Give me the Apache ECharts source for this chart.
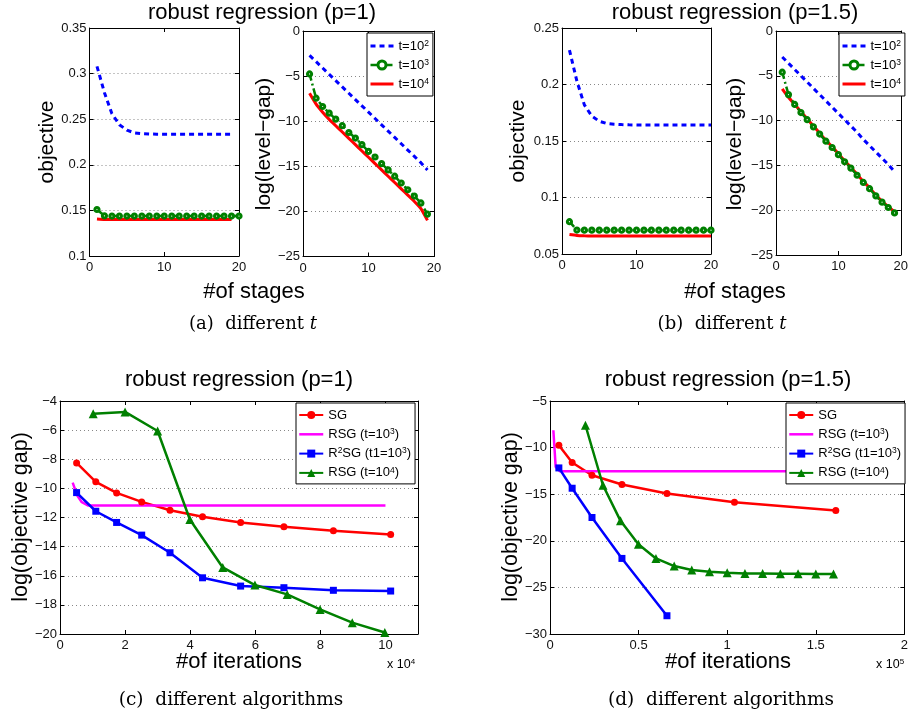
<!DOCTYPE html>
<html><head><meta charset="utf-8">
<script src="https://cdn.jsdelivr.net/npm/echarts@6/dist/echarts.min.js"></script>
<style>html,body{margin:0;padding:0;background:#fff}#c{width:911px;height:719px}</style>
</head><body><div id="c"></div>
<script>
// ---------- data ----------
// (a) p=1 : objective vs #of stages
const a1BlueX = [1,2,3,4,5,6,7,8,9,10,11,12,13,14,15,16,17,18,19];
const a1BlueY = [0.308,0.279,0.256,0.244,0.238,0.235,0.2342,0.2338,0.2336,0.2335,0.2335,0.2335,0.2335,0.2335,0.2335,0.2335,0.2335,0.2335,0.2335];
const a1GreenX = [1,2,3,4,5,6,7,8,9,10,11,12,13,14,15,16,17,18,19,20];
const a1GreenY = [0.151,0.1440,0.1438,0.1438,0.1438,0.1438,0.1438,0.1438,0.1438,0.1438,0.1438,0.1438,0.1438,0.1438,0.1438,0.1438,0.1438,0.1438,0.1438,0.1438];
const a1RedX = [1,2,3,4,5,6,7,8,9,10,11,12,13,14,15,16,17,18,19];
const a1RedY = [0.1405,0.1400,0.1400,0.1400,0.1400,0.1400,0.1400,0.1400,0.1400,0.1400,0.1400,0.1400,0.1400,0.1400,0.1400,0.1400,0.1400,0.1400,0.1400];
// (a) p=1 : log(level-gap)
const a2X = [1,2,3,4,5,6,7,8,9,10,11,12,13,14,15,16,17,18,19];
const a2BlueY = [-2.7,-3.4,-4.1,-4.8,-5.5,-6.2,-6.9,-7.6,-8.3,-9.0,-9.7,-10.4,-11.1,-11.8,-12.5,-13.2,-13.9,-14.6,-15.4];
const a2GreenY = [-4.76,-7.45,-8.37,-9.1,-9.77,-10.5,-11.25,-11.87,-12.6,-13.35,-13.97,-14.7,-15.4,-16.1,-16.85,-17.6,-18.3,-19.06,-20.3];
const a2RedY = [-6.9,-8.1,-9.0,-9.8,-10.5,-11.2,-11.9,-12.6,-13.3,-14.0,-14.7,-15.4,-16.1,-16.8,-17.5,-18.2,-18.9,-19.7,-21.0];
// (b) p=1.5 : objective
const b1X = [1,2,3,4,5,6,7,8,9,10,11,12,13,14,15,16,17,18,19,20];
const b1BlueY = [0.2305,0.203,0.182,0.172,0.1675,0.1655,0.1648,0.1645,0.1643,0.1642,0.1642,0.1642,0.1642,0.1642,0.1642,0.1642,0.1642,0.1642,0.1642,0.1642];
const b1GreenY = [0.0786,0.0712,0.0711,0.0711,0.0711,0.0711,0.0711,0.0711,0.0711,0.0711,0.0711,0.0711,0.0711,0.0711,0.0711,0.0711,0.0711,0.0711,0.0711,0.0711];
const b1RedY = [0.0672,0.0664,0.0661,0.0660,0.0660,0.0660,0.0660,0.0660,0.0660,0.0660,0.0660,0.0660,0.0660,0.0660,0.0660,0.0660,0.0660,0.0660,0.0660,0.0660];
// (b) p=1.5 : log(level-gap)
const b2X = [1,2,3,4,5,6,7,8,9,10,11,12,13,14,15,16,17,18,19];
const b2BlueY = [-2.9,-3.6,-4.3,-5.0,-5.7,-6.4,-7.1,-7.8,-8.5,-9.2,-9.9,-10.6,-11.3,-12.1,-12.8,-13.5,-14.2,-14.9,-15.7];
const b2GreenY = [-4.6,-7.1,-8.2,-9.1,-9.9,-10.7,-11.5,-12.3,-13.0,-13.8,-14.6,-15.3,-16.1,-16.9,-17.6,-18.4,-19.1,-19.7,-20.3];
const b2RedY = [-6.45,-7.4,-8.2,-9.0,-9.8,-10.6,-11.4,-12.2,-12.9,-13.7,-14.5,-15.2,-16.0,-16.8,-17.5,-18.3,-19.0,-19.6,-20.2];
// (c) p=1 : log(objective gap) vs iterations (x 10^4)
const cSGX = [0.51,1.10,1.74,2.51,3.38,4.38,5.55,6.88,8.40,10.16];
const cSGY = [-8.25,-9.55,-10.31,-10.93,-11.5,-11.95,-12.34,-12.64,-12.91,-13.17];
const cRSG3X = [0.39,0.53,0.67,0.87,10.0];
const cRSG3Y = [-9.6,-10.5,-10.95,-11.18,-11.18];
const cR2SGX = [0.51,1.10,1.74,2.51,3.38,4.38,5.55,6.88,8.40,10.16];
const cR2SGY = [-10.29,-11.57,-12.34,-13.21,-14.42,-16.14,-16.71,-16.82,-17.0,-17.05];
const cRSG4X = [1.02,2.0,3.0,3.99,5.0,5.99,6.98,7.99,8.98,9.98];
const cRSG4Y = [-4.87,-4.75,-6.06,-12.14,-15.43,-16.64,-17.28,-18.31,-19.22,-19.9];
// (d) p=1.5 : log(objective gap) vs iterations (x 10^5)
const dSGX = [0.050,0.125,0.237,0.406,0.66,1.041,1.613];
const dSGY = [-9.75,-11.6,-12.96,-13.96,-14.93,-15.86,-16.75];
const dRSG3X = [0.019,0.032,0.056,1.6];
const dRSG3Y = [-8.14,-12.07,-12.54,-12.54];
const dR2SGX = [0.050,0.125,0.237,0.406,0.66];
const dR2SGY = [-12.18,-14.36,-17.5,-21.89,-28.04];
const dRSG4X = [0.2,0.299,0.398,0.499,0.598,0.701,0.8,0.9,1.0,1.1,1.2,1.3,1.4,1.5,1.6];
const dRSG4Y = [-7.6,-14.04,-17.86,-20.36,-21.89,-22.71,-23.14,-23.32,-23.43,-23.5,-23.5,-23.54,-23.54,-23.57,-23.57];

const legendTNames = ['t=10^2','t=10^3','t=10^4'];
const legendAlgNames = ['SG','RSG (t=10^3)','R^2SG (t1=10^3)','RSG (t=10^4)'];
const titleP1 = 'robust regression (p=1)';
const titleP15 = 'robust regression (p=1.5)';

// ---------- layout ----------
const SANS = '"Liberation Sans", Arial, Helvetica, sans-serif';
const SERIF = '"DejaVu Serif", serif';
const grids = [
  {left: 89.5, top: 28, width: 149.5, height: 228},
  {left: 303, top: 31, width: 131, height: 225.5},
  {left: 562, top: 28, width: 149, height: 226},
  {left: 776, top: 31, width: 131, height: 224},
  {left: 60, top: 401, width: 358, height: 233},
  {left: 550, top: 401, width: 357, height: 233}
];
const axisRanges = [
  {x: [0, 20, 10], y: [0.1, 0.35, 0.05]},
  {x: [0, 20, 10], y: [-25, 0, 5]},
  {x: [0, 20, 10], y: [0.05, 0.25, 0.05]},
  {x: [0, 20, 10], y: [-25, 0, 5]},
  {x: [0, 11, 2], y: [-20, -4, 2]},
  {x: [0, 2, 0.5], y: [-30, -5, 5]}
];
const fmt = v => String(+v.toFixed(4)).replace('-', '\u2212');

const xAxis = [], yAxis = [];
grids.forEach((g, i) => {
  const r = axisRanges[i];
  const maxOnTick = Math.abs(r.x[1] / r.x[2] - Math.round(r.x[1] / r.x[2])) < 1e-9;
  const common = {type: 'value', gridIndex: i,
    axisLine: {show: true, onZero: false, lineStyle: {color: '#000', width: 1}},
    axisTick: {show: true, inside: true, length: 4, lineStyle: {color: '#000'}}};
  xAxis.push(Object.assign({}, common, {position: 'bottom', min: r.x[0], max: r.x[1], interval: r.x[2],
    splitLine: {show: false},
    axisLabel: {show: true, fontSize: 13, fontFamily: SANS, color: '#111', margin: 5, formatter: fmt, showMaxLabel: maxOnTick}}));
  xAxis.push(Object.assign({}, common, {position: 'top', min: r.x[0], max: r.x[1], interval: r.x[2],
    splitLine: {show: false}, axisLabel: {show: false}}));
  yAxis.push(Object.assign({}, common, {position: 'left', min: r.y[0], max: r.y[1], interval: r.y[2],
    splitLine: {show: true, lineStyle: {color: '#888', type: [1, 3], width: 1}},
    axisLabel: {show: true, fontSize: 13, fontFamily: SANS, color: '#111', margin: 3, formatter: fmt}}));
  yAxis.push(Object.assign({}, common, {position: 'right', min: r.y[0], max: r.y[1], interval: r.y[2],
    splitLine: {show: false}, axisLabel: {show: false}}));
});

const zip = (xs, ys) => xs.map((x, k) => [x, ys[k]]);
const BLUE = '#0000ff', GREEN = '#008000', RED = '#ff0000', MAG = '#ff00ff';
const DASH = [5, 4], DASHDOT = [7, 3, 2, 3];
const greenMarker = {color: '#fff', borderColor: GREEN, borderWidth: 3};
function sBlueDash(gi, name, xs, ys) {
  return {type: 'line', name, xAxisIndex: 2 * gi, yAxisIndex: 2 * gi, data: zip(xs, ys), symbol: 'none',
    color: BLUE, lineStyle: {color: BLUE, width: 3, type: DASH}, z: 3, silent: true};
}
function sGreenCirc(gi, name, xs, ys) {
  return {type: 'line', name, xAxisIndex: 2 * gi, yAxisIndex: 2 * gi, data: zip(xs, ys), symbol: 'circle', symbolSize: 4.2,
    color: GREEN, itemStyle: greenMarker,
    lineStyle: {color: GREEN, width: 2.5, type: DASHDOT}, z: 4, silent: true};
}
function sRedSolid(gi, name, xs, ys) {
  return {type: 'line', name, xAxisIndex: 2 * gi, yAxisIndex: 2 * gi, data: zip(xs, ys), symbol: 'none',
    color: RED, lineStyle: {color: RED, width: 3}, z: 2, silent: true, smooth: 0.2};
}
function sAlg(gi, name, xs, ys, color, symbol, size) {
  return {type: 'line', name, xAxisIndex: 2 * gi, yAxisIndex: 2 * gi, data: zip(xs, ys),
    symbol: symbol, symbolSize: size, showSymbol: symbol !== 'none',
    color: color, itemStyle: {color: color}, lineStyle: {color: color, width: 2.5}, silent: true, z: 3};
}

const series = [
  sBlueDash(0, legendTNames[0], a1BlueX, a1BlueY),
  sGreenCirc(0, legendTNames[1], a1GreenX, a1GreenY),
  sRedSolid(0, legendTNames[2], a1RedX, a1RedY),
  sBlueDash(1, legendTNames[0], a2X, a2BlueY),
  sGreenCirc(1, legendTNames[1], a2X, a2GreenY),
  sRedSolid(1, legendTNames[2], a2X, a2RedY),
  sBlueDash(2, legendTNames[0], b1X, b1BlueY),
  sGreenCirc(2, legendTNames[1], b1X, b1GreenY),
  sRedSolid(2, legendTNames[2], b1X, b1RedY),
  sBlueDash(3, legendTNames[0], b2X, b2BlueY),
  sGreenCirc(3, legendTNames[1], b2X, b2GreenY),
  sRedSolid(3, legendTNames[2], b2X, b2RedY),
  sAlg(4, legendAlgNames[0], cSGX, cSGY, RED, 'circle', 7),
  sAlg(4, legendAlgNames[1], cRSG3X, cRSG3Y, MAG, 'none', 0),
  sAlg(4, legendAlgNames[2], cR2SGX, cR2SGY, BLUE, 'rect', 7),
  sAlg(4, legendAlgNames[3], cRSG4X, cRSG4Y, GREEN, 'triangle', 9),
  sAlg(5, legendAlgNames[0], dSGX, dSGY, RED, 'circle', 7),
  sAlg(5, legendAlgNames[1], dRSG3X, dRSG3Y, MAG, 'none', 0),
  sAlg(5, legendAlgNames[2], dR2SGX, dR2SGY, BLUE, 'rect', 7),
  sAlg(5, legendAlgNames[3], dRSG4X, dRSG4Y, GREEN, 'triangle', 9)
];

const supFmt = name => name.replace(/\^(\w)/g, '{s|$1}');
const legendText = {fontSize: 13, fontFamily: SANS, color: '#000', lineHeight: 14,
  rich: {s: {fontSize: 8.5, fontFamily: SANS, lineHeight: 14, verticalAlign: 'top'}}};
const hidden = {opacity: 0};
const tItems = [
  {name: legendTNames[0], itemStyle: hidden, lineStyle: {type: DASH, width: 3, color: BLUE}},
  {name: legendTNames[1], itemStyle: greenMarker, lineStyle: {type: DASHDOT, width: 2.5, color: GREEN}},
  {name: legendTNames[2], itemStyle: hidden, lineStyle: {type: 'solid', width: 3, color: RED}}
];
const algItems = [
  {name: legendAlgNames[0]},
  {name: legendAlgNames[1], itemStyle: hidden, lineStyle: {type: 'solid', width: 2.5, color: MAG}},
  {name: legendAlgNames[2]},
  {name: legendAlgNames[3]}
];
function mkLegend(left, top, items, w, h, gap, pad) {
  return {show: true, orient: 'vertical', left, top, data: items, selectedMode: false,
    backgroundColor: '#fff', borderColor: '#000', borderWidth: 1, borderRadius: 0,
    padding: pad, itemWidth: w, itemHeight: h, itemGap: gap,
    formatter: supFmt, textStyle: legendText};
}
const legend = [
  mkLegend(367, 33, tItems, 23, 10, 5, [6, 4, 5, 2]),
  mkLegend(839, 33, tItems, 23, 10, 5, [6, 4, 5, 2]),
  mkLegend(296, 403, algItems, 24, 10, 5.3, [5, 4, 4, 2]),
  mkLegend(786, 403, algItems, 24, 10, 5.3, [5, 4, 4, 2])
];

function txt(x, y, text, size, opts) {
  opts = opts || {};
  return {type: 'text', x, y, rotation: opts.rot || 0, z: 100,
    style: {text, font: size + 'px ' + (opts.family || SANS), fill: '#000',
      align: opts.align || 'center', verticalAlign: 'middle', rich: opts.rich}};
}
const capRich = {i: {fontStyle: 'italic', fontFamily: SERIF, fontSize: 18}};
const supRich = {s: {fontSize: 8, fontFamily: SANS, verticalAlign: 'top', lineHeight: 14}};
const graphic = [
  txt(262, 13, titleP1, 22),
  txt(735, 13, titleP15, 22),
  txt(239, 380, titleP1, 22),
  txt(728, 380, titleP15, 22),
  txt(47, 142, 'objective', 21, {rot: Math.PI / 2}),
  txt(264, 144, 'log(level\u2212gap)', 21, {rot: Math.PI / 2}),
  txt(518, 141, 'objective', 21, {rot: Math.PI / 2}),
  txt(735, 144, 'log(level\u2212gap)', 21, {rot: Math.PI / 2}),
  txt(21, 517, 'log(objective gap)', 21.5, {rot: Math.PI / 2}),
  txt(511, 517, 'log(objective gap)', 21.5, {rot: Math.PI / 2}),
  txt(254, 292, '#of stages', 22),
  txt(735, 292, '#of stages', 22),
  txt(239, 662, '#of iterations', 22),
  txt(728, 662, '#of iterations', 22),
  txt(387, 665, 'x 10{s|4}', 12.5, {align: 'left', rich: supRich}),
  txt(876, 665, 'x 10{s|5}', 12.5, {align: 'left', rich: supRich}),
  txt(253, 324, '(a)  different {i|t}', 18, {family: SERIF, rich: capRich}),
  txt(722, 324, '(b)  different {i|t}', 18, {family: SERIF, rich: capRich}),
  txt(231, 700, '(c)  different algorithms', 18.5, {family: SERIF}),
  txt(721, 700, '(d)  different algorithms', 18.5, {family: SERIF})
];

const chart = echarts.init(document.getElementById('c'), null, {renderer: 'canvas'});
chart.setOption({
  backgroundColor: '#fff',
  animation: false,
  grid: grids.map(g => Object.assign({containLabel: false, show: false}, g)),
  xAxis, yAxis, series, legend, graphic
});
</script></body></html>
